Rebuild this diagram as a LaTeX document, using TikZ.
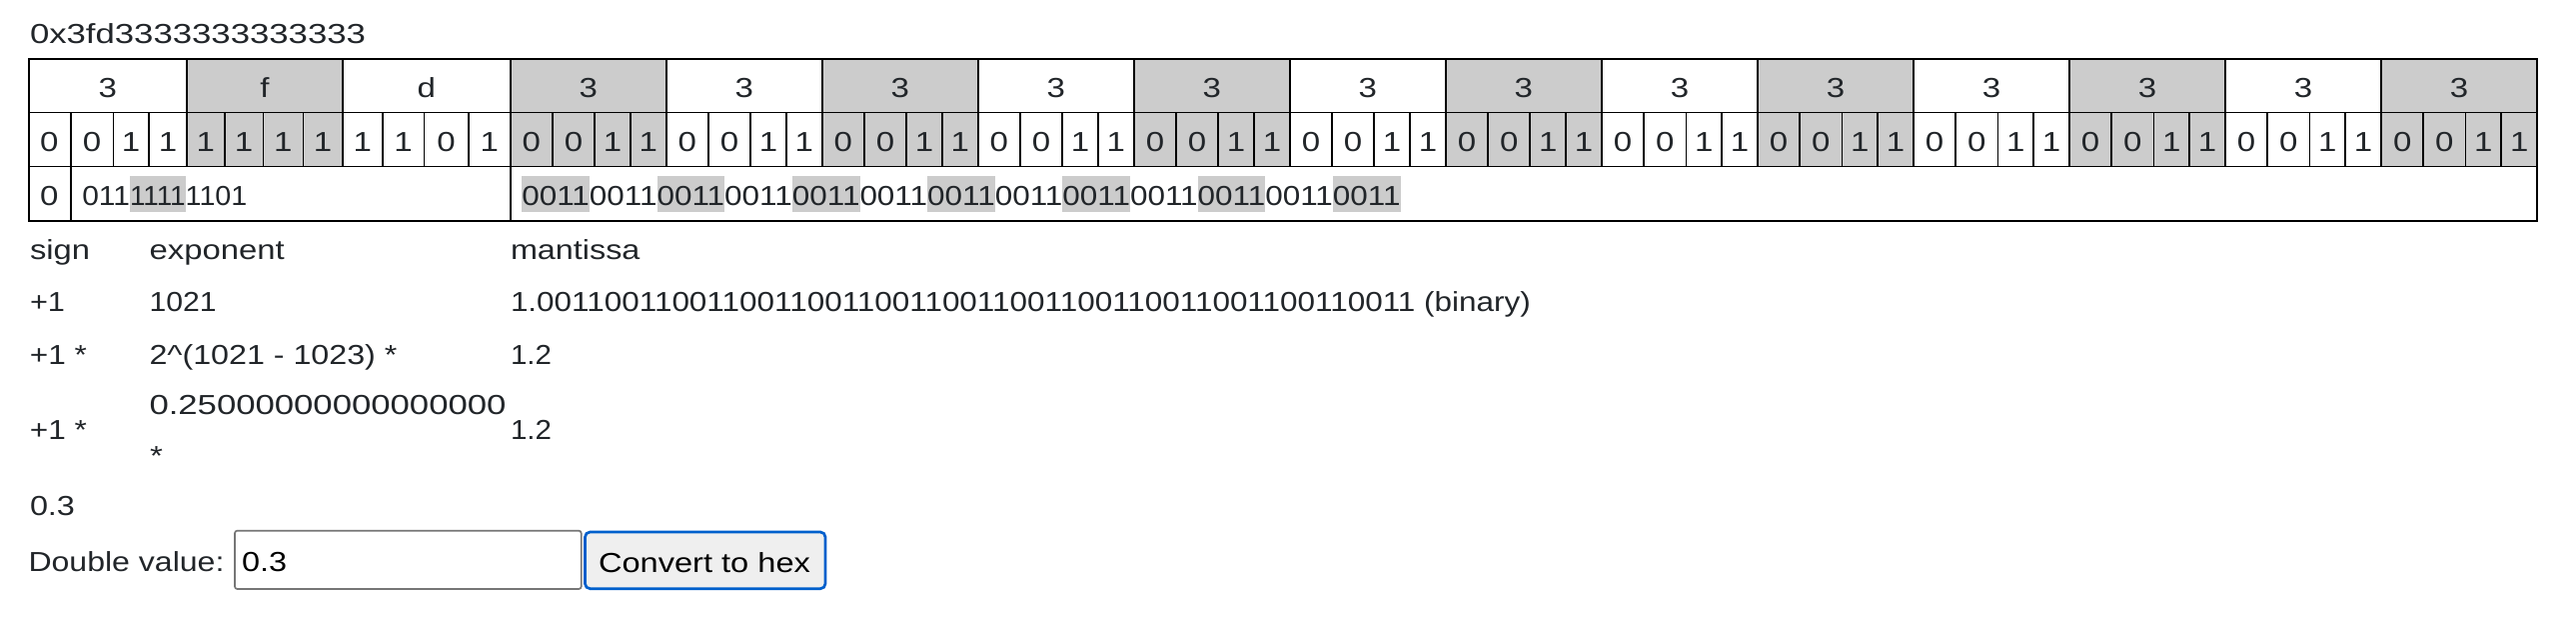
\documentclass[tikz,border=0pt]{standalone}
\usepackage{fontspec}
\setmainfont[FakeStretch=1.2]{Liberation Sans}
\usepackage{graphicx}
\definecolor{txt}{RGB}{33,37,41}
\definecolor{hl}{RGB}{204,204,204}
\definecolor{btnblue}{RGB}{0,95,204}
\definecolor{btnfill}{RGB}{239,239,239}
\definecolor{inpborder}{RGB}{118,118,118}
\newcommand{\fitw}[2]{\resizebox{#1pt}{\height}{#2}}
\newcommand{\qq}{0011}
\begin{document}
\begin{tikzpicture}[x=1pt,y=-1pt,
  every node/.style={inner sep=0pt, outer sep=0pt, font=\fontsize{27.5}{33}\selectfont, text=txt},
  lbl/.style={anchor=base west},
  ctr/.style={anchor=base},
  cellline/.style={line width=1.6pt, draw=black},
  outerline/.style={line width=2.2pt, draw=black},
  hlbox/.style={fill=hl, draw=none}]
\useasboundingbox[fill=white] (0,0) rectangle (2578,620);

% heading
\node[lbl] (head) at (30,44) {\fitw{336}{0x3fd3333333333333}};

% gray hex columns (rows 1 and 2)
\fill[hl] (187,59.3) rectangle (342.8,166.7);
\foreach \k in {3,5,...,15} {
  \pgfmathsetmacro\xa{510.7+(\k-3)*156.03}
  \pgfmathsetmacro\xb{\xa+156.03}
  \fill[hl] (\xa,59.3) rectangle (\xb,166.7);
}

% row 3 highlights
\fill[hl] (130,176) rectangle (185.7,211.7);
\foreach \i in {0,2,...,12} {
  \pgfmathsetmacro\xa{522.3+\i*67.64}
  \pgfmathsetmacro\xb{\xa+67.7}
  \fill[hl] (\xa,176) rectangle (\xb,211.7);
}

% table grid
\draw[cellline] (28.7,112.7) -- (2539.1,112.7);
\draw[cellline] (28.7,166.7) -- (2539.1,166.7);
\foreach \x in {187,342.8} { \draw[cellline] (\x,59.3) -- (\x,112.7); }
\foreach \k in {3,...,15} {
  \pgfmathsetmacro\xa{510.7+(\k-3)*156.03}
  \draw[cellline] (\xa,59.3) -- (\xa,112.7);
}
\foreach \x in {70.7,113.3,149,187,224.8,263.5,303.3,342.8,382.7,424.5,468.7,510.7} {
  \draw[cellline] (\x,112.7) -- (\x,166.7);
}
\foreach \n in {0,...,12} {
  \foreach \o in {42.2,84.4,120.2,156.03} {
    \pgfmathsetmacro\xa{510.7+\n*156.03+\o}
    \draw[cellline] (\xa,112.7) -- (\xa,166.7);
  }
}
\draw[cellline] (70.7,166.7) -- (70.7,220.7);
\draw[cellline] (510.7,166.7) -- (510.7,220.7);
\draw[outerline] (28.7,59.3) rectangle (2539.1,220.7);

% hex labels
\node[ctr] (hx0) at (107.85,98) {3};
\node[ctr] (hx1) at (264.9,98) {f};
\node[ctr] (hx2) at (426.75,98) {d};
\foreach \k in {3,...,15} {
  \pgfmathsetmacro\xc{510.7+(\k-3)*156.03+78.015}
  \node[ctr] (hx\k) at (\xc,98) {3};
}

% bits
\foreach \x/\b [count=\j] in {49.2/0,92/0,131.15/1,168/1,205.9/1,244.15/1,283.4/1,323.05/1,362.75/1,403.6/1,446.6/0,489.7/1} {
  \node[ctr] (bt\j) at (\x,152) {\b};
}
\foreach \n in {0,...,12} {
  \foreach \o/\b [count=\m] in {21.1/0,63.3/0,102.3/1,138.1/1} {
    \pgfmathsetmacro\xc{510.7+\n*156.03+\o}
    \node[ctr] (bm\n-\m) at (\xc,152) {\b};
  }
}

% row 3 texts
\node[ctr] (sgn) at (49.2,205.5) {0};
\node[lbl] (ex1) at (82.3,205.5) {\fitw{47.7}{011}};
\node[lbl] (ex2) at (130,205.5) {\fitw{55.7}{1111}};
\node[lbl] (ex3) at (185.7,205.5) {\fitw{61.6}{1101}};
\foreach \i in {0,...,12} {
  \pgfmathsetmacro\xa{522.3+\i*67.64}
  \node[lbl] (mt\i) at (\xa,205.5) {\fitw{67.64}{0011}};
}

% lower labels
\node[lbl] (lsign) at (30,260) {\fitw{60}{sign}};
\node[lbl] (lexp) at (149.7,260) {\fitw{135}{exponent}};
\node[lbl] (lman) at (511,260) {\fitw{129.5}{mantissa}};

\node[lbl] (r1s) at (30,312) {\fitw{35}{+1}};
\node[lbl] (r1e) at (149.7,312) {\fitw{67}{1021}};
\node[lbl] (r1m) at (511,312) {\fitw{1021}{1.\qq\qq\qq\qq\qq\qq\qq\qq\qq\qq\qq\qq\qq{} (binary)}};

\node[lbl] (r2s) at (30,364) {\fitw{57}{+1 *}};
\node[lbl] (r2e) at (149.5,364) {\fitw{248}{2\^{}(1021 - 1023) *}};
\node[lbl] (r2m) at (511,364) {\fitw{41}{1.2}};

\node[lbl] (r3s) at (30,439.5) {\fitw{57}{+1 *}};
\node[lbl] (r3e) at (149.5,414.5) {\fitw{357}{0.25000000000000000}};
\node[lbl] (r3f) at (150,465) {*};
\node[lbl] (r3m) at (511,439.5) {\fitw{41}{1.2}};

\node[lbl] (val) at (30,515) {\fitw{45}{0.3}};

% form
\node[lbl] (dv) at (28.5,571.7) {\fitw{196}{Double value:}};
\draw[draw=inpborder, line width=1.7pt, rounded corners=2.5pt] (235,530.7) rectangle (581.7,589);
\node[lbl, text=black] (inp) at (242,571.7) {\fitw{45}{0.3}};
\draw[draw=btnblue, fill=btnfill, line width=2.7pt, rounded corners=5pt] (585.5,532) rectangle (826,588.7);
\node[lbl, text=black] (btn) at (599,572.3) {\fitw{212}{Convert to hex}};
\end{tikzpicture}
\end{document}
